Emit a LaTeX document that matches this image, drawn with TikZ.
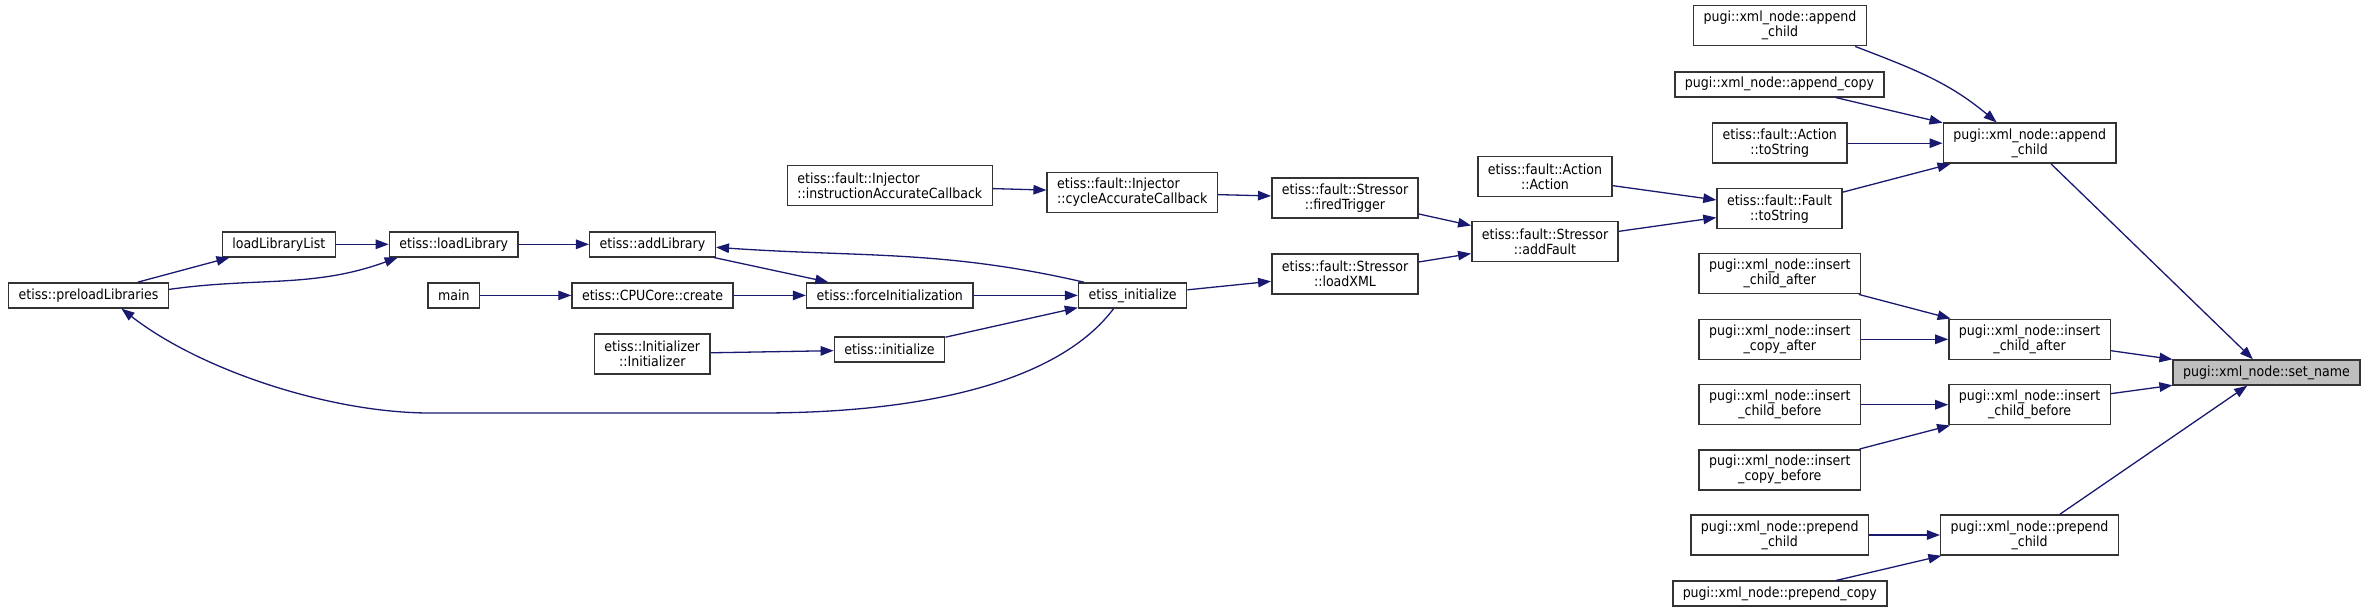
\documentclass[tikz,border=0pt]{standalone}
\usepackage{fontspec}
\setmainfont{DejaVu Sans Condensed}
\usetikzlibrary{arrows.meta}
\definecolor{edgeblue}{HTML}{191970}
\definecolor{boxgray}{HTML}{333333}
\definecolor{curfill}{HTML}{BFBFBF}

\begin{document}
\begin{tikzpicture}[x=1pt, y=-1pt,
    every node/.style={font=\fontsize{14}{15}\selectfont},
    fn/.style={draw=boxgray, line width=1.5pt, fill=white, inner xsep=10pt, inner ysep=2pt, minimum height=25pt, align=center},
    fn2/.style={fn, minimum height=40pt},
    call/.style={draw=edgeblue, line width=1.3pt, -{Triangle[length=13pt,width=9.5pt]}}]
    \useasboundingbox (0,0) rectangle (2369,613);

    % functions
    \node[fn] (preload) at (88.5,295.4) {etiss::preloadLibraries};
    \node[fn] (loadlist) at (278.8,244.3) {loadLibraryList};
    \node[fn] (loadlib) at (453.8,244.3) {etiss::loadLibrary};
    \node[fn] (addlib) at (652.5,244.3) {etiss::addLibrary};
    \node[fn] (mainfn) at (453.8,295.4) {main};
    \node[fn] (create) at (652.5,295.4) {etiss::CPUCore::create};
    \node[fn2] (initctor) at (652.3,353.8) {etiss::Initializer\\::Initializer};
    \node[fn] (forceinit) at (889.8,295.4) {etiss::forceInitialization};
    \node[fn] (initlow) at (889.5,349.7) {etiss::initialize};
    \node[fn2, align=left] (instcb) at (889.8,185.7) {etiss::fault::Injector\\::instructionAccurateCallback};
    \node[fn] (einit) at (1132.6,295.4) {etiss\_initialize};
    \node[fn2, align=left] (cyclecb) at (1132.3,192.5) {etiss::fault::Injector\\::cycleAccurateCallback};
    \node[fn2] (fired) at (1345,197.8) {etiss::fault::Stressor\\::firedTrigger};
    \node[fn2] (loadxml) at (1345,273.8) {etiss::fault::Stressor\\::loadXML};
    \node[fn2] (action) at (1545,176.3) {etiss::fault::Action\\::Action};
    \node[fn2] (addfault) at (1545,241.7) {etiss::fault::Stressor\\::addFault};
    \node[fn2] (atostr) at (1779.8,143.2) {etiss::fault::Action\\::toString};
    \node[fn2] (ftostr) at (1779.5,208.7) {etiss::fault::Fault\\::toString};
    \node[fn2] (appchl) at (1780,25.7) {pugi::xml\_node::append\\\_child};
    \node[fn] (appcopy) at (1779.5,84.3) {pugi::xml\_node::append\_copy};
    \node[fn2] (appch) at (2029.7,143.2) {pugi::xml\_node::append\\\_child};
    \node[fn2] (insaftl) at (1779.8,273.7) {pugi::xml\_node::insert\\\_child\_after};
    \node[fn2] (inscpaft) at (1779.8,339.3) {pugi::xml\_node::insert\\\_copy\_after};
    \node[fn2] (insaft) at (2029.6,339.3) {pugi::xml\_node::insert\\\_child\_after};
    \node[fn2] (insbefl) at (1779.8,404.7) {pugi::xml\_node::insert\\\_child\_before};
    \node[fn2] (inscpbef) at (1779.8,469.8) {pugi::xml\_node::insert\\\_copy\_before};
    \node[fn2] (insbef) at (2029.6,404.7) {pugi::xml\_node::insert\\\_child\_before};
    \node[fn2] (prepl) at (1779.8,535) {pugi::xml\_node::prepend\\\_child};
    \node[fn] (prepcopy) at (1779.8,593.7) {pugi::xml\_node::prepend\_copy};
    \node[fn2] (prep) at (2029.6,535) {pugi::xml\_node::prepend\\\_child};
    \node[fn, fill=curfill] (setname) at (2266.5,372.5) {pugi::xml\_node::set\_name};

    % calls
    \draw[call] (loadlist) -- (loadlib);
    \draw[call] (preload) -- (loadlist);
    \draw[call] ([yshift=6pt]preload.east) to[out=8,in=200] ([xshift=9pt]loadlib.south west);
    \draw[call] (loadlib) -- (addlib);
    \draw[call] (addlib) -- (forceinit);
    \draw[call] ([xshift=6pt]einit.north west) to[out=167,in=-4] ([yshift=-3pt]addlib.east);
    \draw[call] (mainfn) -- (create);
    \draw[call] (create) -- (forceinit);
    \draw[call] (forceinit) -- (einit);
    \draw[call] (initctor) -- (initlow);
    \draw[call] (initlow) -- (einit);
    \draw[call] ([xshift=-19pt]einit.south) .. controls (1060,380) and (930,413) .. (760,413)
        -- (430,413) .. controls (330,413) and (200,370) .. ([xshift=33pt]preload.south);

    \draw[call] (instcb) -- (cyclecb);
    \draw[call] (cyclecb) -- (fired);
    \draw[call] (fired) -- (addfault);
    \draw[call] (einit) -- (loadxml);
    \draw[call] (loadxml) -- (addfault);
    \draw[call] (action) -- (ftostr);
    \draw[call] (addfault) -- (ftostr);

    \draw[call] ([xshift=-12pt]appchl.south east) to[out=-21,in=140] ([xshift=-33pt]appch.north);
    \draw[call] (appcopy) -- (appch);
    \draw[call] (atostr) -- (appch);
    \draw[call] (ftostr) -- (appch);
    \draw[call] (appch) -- (setname);

    \draw[call] (insaftl) -- (insaft);
    \draw[call] (inscpaft) -- (insaft);
    \draw[call] (insaft) -- (setname);
    \draw[call] (insbefl) -- (insbef);
    \draw[call] (inscpbef) -- (insbef);
    \draw[call] (insbef) -- (setname);
    \draw[call] (prepl) -- (prep);
    \draw[call] (prepcopy) -- (prep);
    \draw[call] (prep) -- (setname);
\end{tikzpicture}
\end{document}
